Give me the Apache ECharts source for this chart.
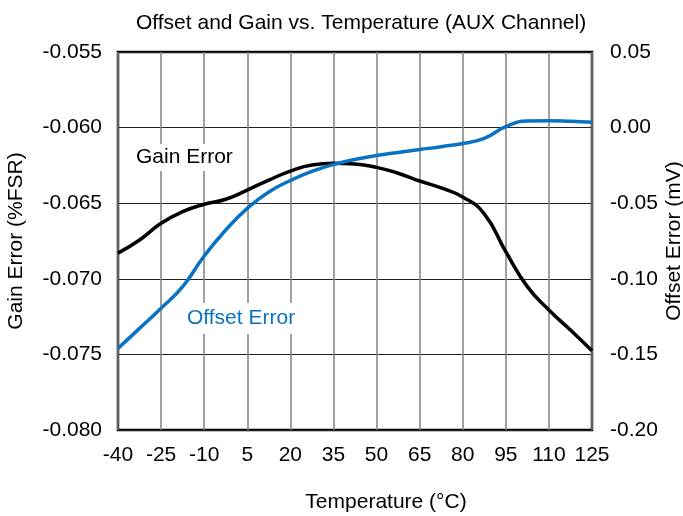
<!DOCTYPE html>
<html>
<head>
<meta charset="utf-8">
<script src="https://cdn.jsdelivr.net/npm/echarts@6/dist/echarts.min.js"></script>
<style>html,body{margin:0;padding:0;background:#fff}#c{width:683px;height:516px}</style>
</head>
<body>
<div id="c"></div>
<script>
const titleText = 'Offset and Gain vs. Temperature (AUX Channel)';
const xName = 'Temperature (°C)';
const leftName = 'Gain Error (%FSR)';
const rightName = 'Offset Error (mV)';
const temps = [-40,-32.5,-25,-17.5,-10,-2.5,5,12.5,20,27.5,35,42.5,50,57.5,65,72.5,80,87.5,95,102.5,110,117.5,125];
const gainError = [-0.0683,-0.06743,-0.06633,-0.06556,-0.06507,-0.06474,-0.06413,-0.06347,-0.06288,-0.06247,-0.06236,-0.06241,-0.06263,-0.06302,-0.06353,-0.06399,-0.06459,-0.06571,-0.06821,-0.07052,-0.07206,-0.07339,-0.07476];
const offsetError = [-0.1460,-0.1328,-0.1195,-0.1052,-0.0849,-0.0677,-0.0534,-0.0426,-0.0350,-0.0290,-0.0244,-0.0211,-0.0184,-0.0164,-0.0145,-0.0126,-0.0105,-0.0071,0.0006,0.0044,0.0046,0.0042,0.0035];

const FONT = 'Liberation Sans';
const chart = echarts.init(document.getElementById('c'));
chart.setOption({
  animation: false,
  backgroundColor: '#fff',
  textStyle: {fontFamily: FONT},
  title: {text: titleText, left: 131, top: 8,
    textStyle: {fontFamily: FONT, fontSize: 21, fontWeight: 'normal', color: '#000'}},
  grid: {left: 118, right: 91, top: 52, bottom: 86, show: true, borderColor: '#000', borderWidth: 2.5,
    containLabel: false, outerBoundsMode: 'none'},
  xAxis: {type: 'value', min: -40, max: 125, interval: 15,
    name: xName, nameLocation: 'middle', nameGap: 62, nameMoveOverlap: false,
    nameTextStyle: {fontFamily: FONT, fontSize: 21, color: '#000', padding: [0, 0, 0, 62]},
    axisLine: {show: false}, axisTick: {show: false},
    axisLabel: {fontFamily: FONT, fontSize: 21, color: '#000', margin: 15},
    splitLine: {show: true, lineStyle: {color: '#808080', width: 1.5}}},
  yAxis: [
    {type: 'value', min: -0.080, max: -0.055, interval: 0.005, position: 'left',
      name: leftName, nameLocation: 'middle', nameGap: 91, nameMoveOverlap: false,
      nameTextStyle: {fontFamily: FONT, fontSize: 21, color: '#000'},
      axisLine: {show: false}, axisTick: {show: false},
      axisLabel: {fontFamily: FONT, fontSize: 21, color: '#000', margin: 16, formatter: v => v.toFixed(3)},
      splitLine: {show: true, lineStyle: {color: '#222', width: 1}}},
    {type: 'value', min: -0.20, max: 0.05, interval: 0.05, position: 'right',
      name: rightName, nameLocation: 'middle', nameGap: 72, nameMoveOverlap: false,
      nameTextStyle: {fontFamily: FONT, fontSize: 21, color: '#000'},
      axisLine: {show: false}, axisTick: {show: false},
      axisLabel: {fontFamily: FONT, fontSize: 21, color: '#000', margin: 18, formatter: v => v.toFixed(2)},
      splitLine: {show: false}}
  ],
  series: [
    {type: 'line', yAxisIndex: 0, smooth: 0.5, showSymbol: false,
      data: temps.map((t, i) => [t, gainError[i]]),
      lineStyle: {color: '#000', width: 3.5}, z: 3},
    {type: 'line', yAxisIndex: 1, smooth: 0.5, showSymbol: false,
      data: temps.map((t, i) => [t, offsetError[i]]),
      lineStyle: {color: '#0a72c3', width: 3.5}, z: 4}
  ],
  graphic: [
    {type: 'text', left: 133, top: 144, z: 10,
      style: {text: 'Gain Error', font: '21px "Liberation Sans"', fill: '#000', backgroundColor: '#fff', padding: [3, 3]}},
    {type: 'text', left: 184, top: 303, z: 10,
      style: {text: 'Offset Error', font: '21px "Liberation Sans"', fill: '#0a72c3', backgroundColor: '#fff', padding: [5, 3]}}
  ]
});
</script>
</body>
</html>
